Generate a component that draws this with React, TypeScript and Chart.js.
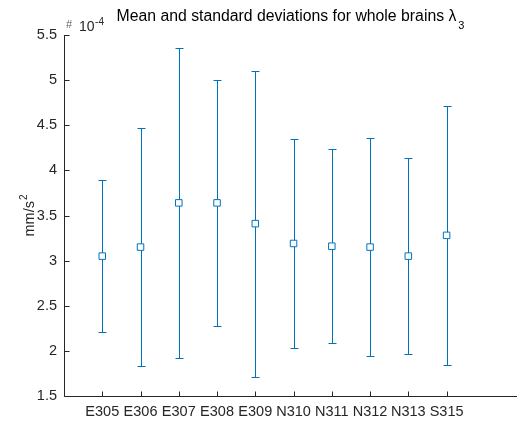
import { useEffect, useRef } from 'react';
import { Chart, registerables } from 'chart.js';

Chart.register(...registerables);

const categories = ['E305', 'E306', 'E307', 'E308', 'E309', 'N310', 'N311', 'N312', 'N313', 'S315'];
// values in units of 1e-4 mm/s^2
const means = [3.05, 3.15, 3.64, 3.64, 3.41, 3.19, 3.16, 3.15, 3.05, 3.28];
const stds = [0.84, 1.315, 1.72, 1.36, 1.695, 1.16, 1.075, 1.21, 1.085, 1.435];
const yTickValues = [1.5, 2, 2.5, 3, 3.5, 4, 4.5, 5, 5.5];
const titleMain = 'Mean and standard deviations for whole brains λ';
const titleSub = '3';
const yLabelMain = 'mm/s';
const yLabelSup = '2';
const exponentText = '10';
const exponentPower = '-4';

const BLUE = '#0072BD';
const AXIS = '#262626';
const FONT = '"Liberation Sans", Arial, Helvetica, sans-serif';

const decorPlugin = {
  id: 'decor',
  beforeDatasetsDraw(chart: any) {
    const { ctx } = chart;
    const xs = chart.scales.x;
    const ys = chart.scales.y;
    ctx.save();
    ctx.strokeStyle = BLUE;
    ctx.lineWidth = 1;
    means.forEach((m, i) => {
      const x = Math.round(xs.getPixelForValue(i + 1)) + 0.5;
      const yt = Math.round(ys.getPixelForValue(m + stds[i])) + 0.5;
      const yb = Math.round(ys.getPixelForValue(m - stds[i])) + 0.5;
      const cap = 4;
      ctx.beginPath();
      ctx.moveTo(x, yt);
      ctx.lineTo(x, yb);
      ctx.moveTo(x - cap, yt);
      ctx.lineTo(x + cap, yt);
      ctx.moveTo(x - cap, yb);
      ctx.lineTo(x + cap, yb);
      ctx.stroke();
    });
    ctx.restore();
  },
  afterDraw(chart: any) {
    const { ctx, chartArea } = chart;
    const xs = chart.scales.x;
    const ys = chart.scales.y;
    const left = Math.round(chartArea.left) + 0.5;
    const bottom = Math.round(chartArea.bottom) + 0.5;
    const top = Math.round(chartArea.top);
    const right = chartArea.right;
    ctx.save();
    ctx.strokeStyle = AXIS;
    ctx.lineWidth = 1;
    ctx.beginPath();
    ctx.moveTo(left, top);
    ctx.lineTo(left, bottom);
    ctx.lineTo(right, bottom);
    // inward ticks
    yTickValues.forEach((v) => {
      const y = Math.round(ys.getPixelForValue(v)) + 0.5;
      ctx.moveTo(left, y);
      ctx.lineTo(left + 5, y);
    });
    categories.forEach((_, i) => {
      const x = Math.round(xs.getPixelForValue(i + 1)) + 0.5;
      ctx.moveTo(x, bottom);
      ctx.lineTo(x, bottom - 5);
    });
    ctx.stroke();

    // title
    const cx = (chartArea.left + chartArea.right) / 2;
    ctx.fillStyle = '#000';
    ctx.textBaseline = 'alphabetic';
    ctx.textAlign = 'left';
    ctx.font = `15.8px ${FONT}`;
    const wMain = ctx.measureText(titleMain).width;
    ctx.font = `11px ${FONT}`;
    const wSub = ctx.measureText(titleSub).width;
    const tx = cx - (wMain + 2 + wSub) / 2;
    ctx.font = `15.8px ${FONT}`;
    ctx.fillText(titleMain, tx, 20.7);
    ctx.font = `11px ${FONT}`;
    ctx.fillText(titleSub, tx + wMain + 2, 29);

    // exponent label
    ctx.fillStyle = '#666';
    ctx.font = `11px ${FONT}`;
    ctx.fillText('#', 66, 28);
    ctx.fillStyle = AXIS;
    ctx.font = `14px ${FONT}`;
    ctx.fillText(exponentText, 79, 30.5);
    const w10 = ctx.measureText(exponentText).width;
    ctx.font = `10px ${FONT}`;
    ctx.fillText(exponentPower, 79 + w10 + 0.5, 24.5);

    // y label
    ctx.save();
    const cy = (chartArea.top + chartArea.bottom) / 2;
    ctx.translate(33.5, cy);
    ctx.rotate(-Math.PI / 2);
    ctx.font = `14.5px ${FONT}`;
    const wl = ctx.measureText(yLabelMain).width;
    ctx.font = `10px ${FONT}`;
    const ws = ctx.measureText(yLabelSup).width;
    const lx = -(wl + 1 + ws) / 2;
    ctx.font = `14.5px ${FONT}`;
    ctx.fillText(yLabelMain, lx, 0);
    ctx.font = `10px ${FONT}`;
    ctx.fillText(yLabelSup, lx + wl + 1, -6.5);
    ctx.restore();

    ctx.restore();
  },
};

export default function App() {
  const ref = useRef<HTMLCanvasElement>(null);
  useEffect(() => {
    if (!ref.current) return;
    const chart = new Chart(ref.current, {
      type: 'scatter',
      data: {
        datasets: [
          {
            data: means.map((m, i) => ({ x: i + 1, y: m })),
            pointStyle: 'rect',
            pointRadius: 4.6,
            pointBorderWidth: 1,
            pointBorderColor: BLUE,
            pointBackgroundColor: '#ffffff',
            showLine: false,
          },
        ],
      },
      options: {
        animation: false,
        responsive: false,
        devicePixelRatio: 1,
        layout: { autoPadding: false, padding: { top: 35, right: 0, left: 0, bottom: 0 } },
        plugins: { legend: { display: false }, tooltip: { enabled: false }, title: { display: false } },
        scales: {
          x: {
            type: 'linear',
            min: 0,
            max: 11.84,
            grid: { display: false, drawTicks: false },
            border: { display: false },
            afterBuildTicks: (scale: any) => {
              scale.ticks = categories.map((_, i) => ({ value: i + 1 }));
            },
            afterFit: (scale: any) => {
              scale.height = 27;
              scale.paddingLeft = 0;
              scale.paddingRight = 0;
            },
            ticks: {
              autoSkip: false,
              maxRotation: 0,
              padding: 7,
              color: AXIS,
              font: { family: FONT, size: 14.5 },
              callback: (v: any) => categories[Number(v) - 1] ?? '',
            },
          },
          y: {
            type: 'linear',
            min: 1.5,
            max: 5.5,
            grid: { display: false, drawTicks: false },
            border: { display: false },
            afterBuildTicks: (scale: any) => {
              scale.ticks = yTickValues.map((v) => ({ value: v }));
            },
            afterFit: (scale: any) => {
              scale.width = 64;
              scale.paddingTop = 0;
              scale.paddingBottom = 0;
            },
            ticks: {
              padding: 7,
              color: AXIS,
              font: { family: FONT, size: 14.5 },
              callback: (v: any) => String(v),
            },
          },
        },
      },
      plugins: [decorPlugin],
    });
    return () => chart.destroy();
  }, []);
  return (
    <div style={{ position: 'fixed', left: 0, top: 0, width: 517, height: 423, background: '#fff' }}>
      <canvas ref={ref} width={517} height={423} style={{ display: 'block' }} />
    </div>
  );
}
